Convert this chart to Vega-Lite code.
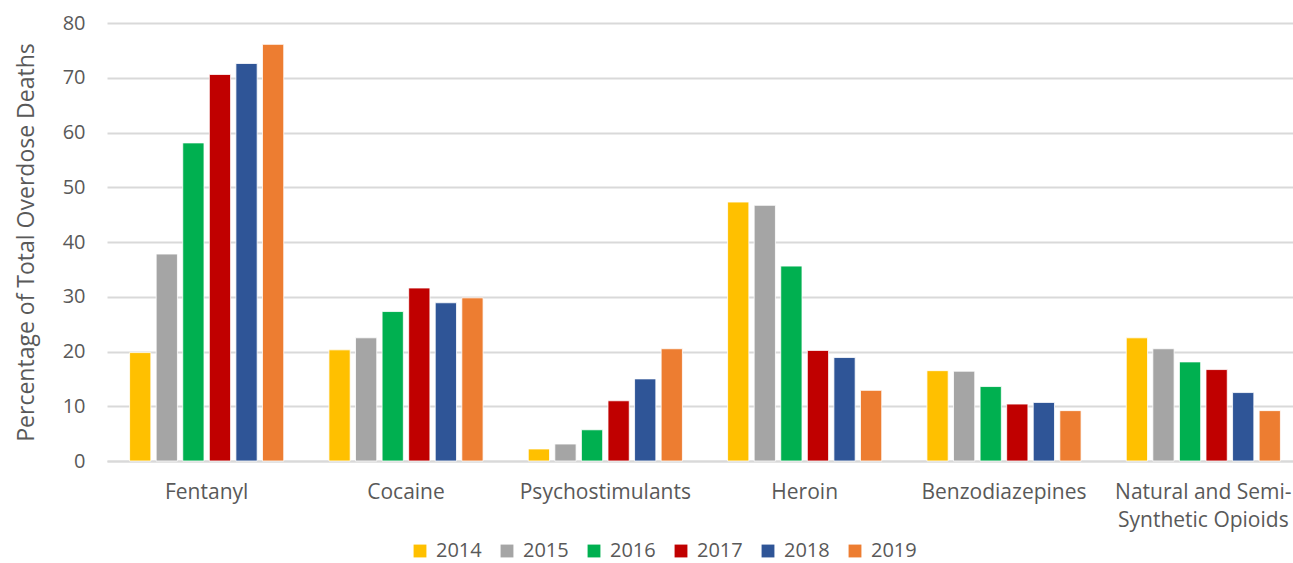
{
  "$schema": "https://vega.github.io/schema/vega-lite/v6.json",
  "autosize": {"type": "none"},
  "width": 1196,
  "height": 438,
  "padding": {"left": 107, "top": 23, "right": 0, "bottom": 102},
  "background": "white",
  "config": {
    "view": {"stroke": null},
    "font": "Open Sans",
    "axis": {"labelFont": "Open Sans", "titleFont": "Open Sans", "labelColor": "#595959", "titleColor": "#595959"},
    "legend": {"labelFont": "Open Sans"}
  },
  "data": {
    "values": [
      {"drug": "Fentanyl", "year": "2014", "pct": 19.8},
      {"drug": "Fentanyl", "year": "2015", "pct": 37.8},
      {"drug": "Fentanyl", "year": "2016", "pct": 58.1},
      {"drug": "Fentanyl", "year": "2017", "pct": 70.6},
      {"drug": "Fentanyl", "year": "2018", "pct": 72.6},
      {"drug": "Fentanyl", "year": "2019", "pct": 76.1},
      {"drug": "Cocaine", "year": "2014", "pct": 20.3},
      {"drug": "Cocaine", "year": "2015", "pct": 22.5},
      {"drug": "Cocaine", "year": "2016", "pct": 27.3},
      {"drug": "Cocaine", "year": "2017", "pct": 31.6},
      {"drug": "Cocaine", "year": "2018", "pct": 28.9},
      {"drug": "Cocaine", "year": "2019", "pct": 29.8},
      {"drug": "Psychostimulants", "year": "2014", "pct": 2.2},
      {"drug": "Psychostimulants", "year": "2015", "pct": 3.1},
      {"drug": "Psychostimulants", "year": "2016", "pct": 5.7},
      {"drug": "Psychostimulants", "year": "2017", "pct": 11.0},
      {"drug": "Psychostimulants", "year": "2018", "pct": 15.0},
      {"drug": "Psychostimulants", "year": "2019", "pct": 20.5},
      {"drug": "Heroin", "year": "2014", "pct": 47.3},
      {"drug": "Heroin", "year": "2015", "pct": 46.7},
      {"drug": "Heroin", "year": "2016", "pct": 35.6},
      {"drug": "Heroin", "year": "2017", "pct": 20.2},
      {"drug": "Heroin", "year": "2018", "pct": 18.9},
      {"drug": "Heroin", "year": "2019", "pct": 12.9},
      {"drug": "Benzodiazepines", "year": "2014", "pct": 16.5},
      {"drug": "Benzodiazepines", "year": "2015", "pct": 16.4},
      {"drug": "Benzodiazepines", "year": "2016", "pct": 13.6},
      {"drug": "Benzodiazepines", "year": "2017", "pct": 10.4},
      {"drug": "Benzodiazepines", "year": "2018", "pct": 10.7},
      {"drug": "Benzodiazepines", "year": "2019", "pct": 9.2},
      {"drug": "Natural and Semi-Synthetic Opioids", "year": "2014", "pct": 22.5},
      {"drug": "Natural and Semi-Synthetic Opioids", "year": "2015", "pct": 20.5},
      {"drug": "Natural and Semi-Synthetic Opioids", "year": "2016", "pct": 18.1},
      {"drug": "Natural and Semi-Synthetic Opioids", "year": "2017", "pct": 16.7},
      {"drug": "Natural and Semi-Synthetic Opioids", "year": "2018", "pct": 12.5},
      {"drug": "Natural and Semi-Synthetic Opioids", "year": "2019", "pct": 9.2}
    ]
  },
  "mark": {"type": "bar", "stroke": "white", "strokeWidth": 0.8},
  "encoding": {
    "x": {
      "field": "drug",
      "type": "nominal",
      "sort": null,
      "scale": {"paddingInner": 0.2, "paddingOuter": 0.1},
      "axis": {
        "title": null,
        "labelAngle": 0,
        "labelFontSize": 21,
        "labelPadding": 20,
        "labelLineHeight": 28,
        "labelBaseline": "top",
        "labelExpr": "datum.label == 'Natural and Semi-Synthetic Opioids' ? ['Natural and Semi-', 'Synthetic Opioids'] : datum.label",
        "ticks": false,
        "domainColor": "#D9D9D9",
        "domainWidth": 2,
        "grid": false
      }
    },
    "xOffset": {
      "field": "year",
      "type": "nominal",
      "scale": {"paddingInner": 0.2, "paddingOuter": 0.1}
    },
    "y": {
      "field": "pct",
      "type": "quantitative",
      "scale": {"domain": [0, 80], "nice": false},
      "axis": {
        "title": "Percentage of Total Overdose Deaths",
        "titleFontSize": 23,
        "titleFontWeight": "normal",
        "titlePadding": 24,
        "labelFontSize": 20,
        "labelPadding": 22,
        "values": [0, 10, 20, 30, 40, 50, 60, 70, 80],
        "ticks": false,
        "domain": false,
        "gridColor": "#D9D9D9",
        "gridWidth": 2
      }
    },
    "color": {
      "field": "year",
      "type": "nominal",
      "scale": {
        "domain": ["2014", "2015", "2016", "2017", "2018", "2019"],
        "range": ["#FFC000", "#A5A5A5", "#00B050", "#C00000", "#2F5597", "#ED7D31"]
      },
      "legend": {
        "title": null,
        "orient": "none",
        "direction": "horizontal",
        "columns": 6,
        "legendX": 303,
        "legendY": 518,
        "symbolType": "square",
        "symbolSize": 165,
        "symbolStrokeWidth": 0,
        "labelFontSize": 20,
        "labelColor": "#595959",
        "columnPadding": 15,
        "labelOffset": 6
      }
    }
  }
}
